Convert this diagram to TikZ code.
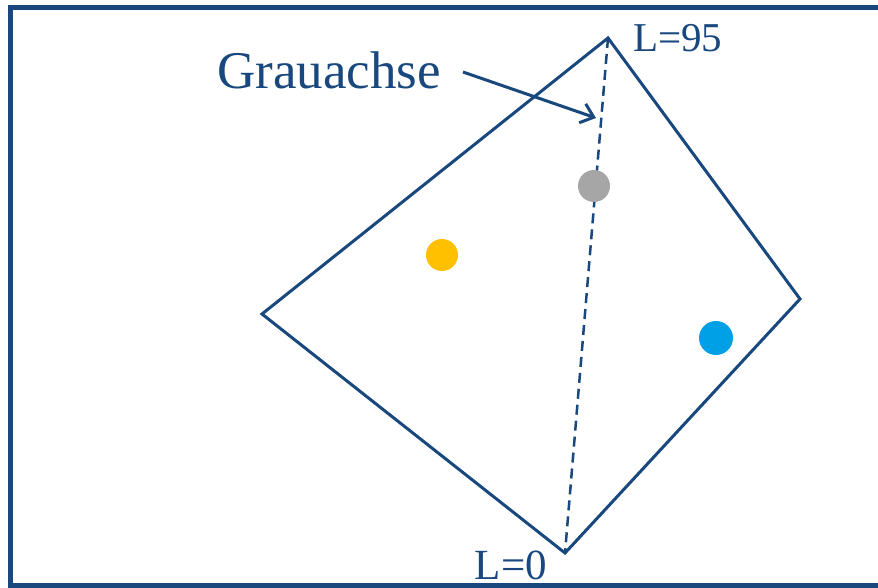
\documentclass[tikz,border=0pt]{standalone}
\usepackage{fontspec}
\setmainfont{Liberation Serif}
\usetikzlibrary{arrows.meta}
\definecolor{dblue}{RGB}{24,72,125}
\definecolor{dyellow}{RGB}{255,192,0}
\definecolor{dcyan}{RGB}{0,160,230}
\definecolor{dgray}{RGB}{166,166,166}
\begin{document}
\begin{tikzpicture}[x=1pt,y=-1pt,
  edge/.style={draw=dblue,line width=3pt,line join=miter},
  dot/.style={circle,inner sep=0pt,minimum size=32pt},
  lbl/.style={text=dblue,inner sep=0pt}]
\useasboundingbox (0,0) rectangle (878,588);
\fill[white] (0,0) rectangle (878,588);
\draw[dblue,line width=5pt] (890,7.5) -- (10.5,7.5) -- (10.5,585) -- (890,585);
\coordinate (top) at (608,38);
\coordinate (left) at (262,314);
\coordinate (bot) at (565,553);
\coordinate (right) at (800,299);
\draw[edge] (top) -- (left) -- (bot) -- (right) -- cycle;
\draw[dblue,line width=2.5pt,dash pattern=on 10pt off 6pt] (top) -- (bot);
\node[dot,fill=dgray] (g) at (594,186) {};
\node[dot,fill=dyellow] (y) at (442,255) {};
\node[dot,fill=dcyan,minimum size=34pt] (b) at (716,338) {};
\node[lbl,font=\fontsize{53}{53}\selectfont] (ga) at (329,70) {Grauachse};
\node[lbl,anchor=west,font=\fontsize{41}{41}\selectfont] (l95) at (633,38) {L=95};
\node[lbl,font=\fontsize{43}{43}\selectfont] (l0) at (511,565) {L=0};
\coordinate (ax) at (596,118);
\draw[dblue,line width=3pt,-{Straight Barb[length=12pt,width=20pt]}] (463,72) -- (ax);
\end{tikzpicture}
\end{document}
